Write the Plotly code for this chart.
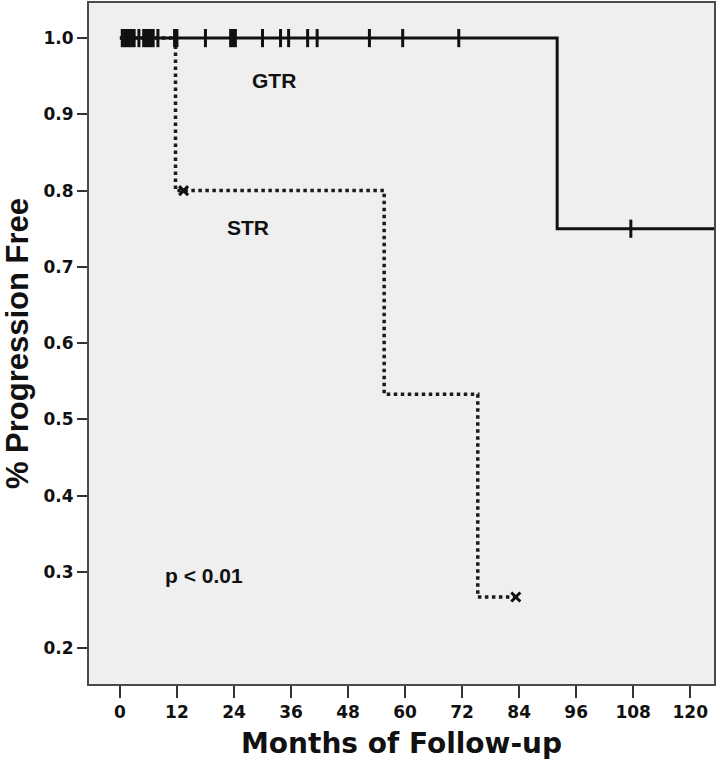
import plotly.graph_objects as go

# Kaplan-Meier step data
gtr_times = [0, 92, 126]
gtr_surv = [1.0, 0.75, 0.75]
gtr_cens_t = [0.5, 1, 1.5, 2, 2.5, 3, 4, 5, 5.5, 6, 6.5, 7, 8, 11.5, 12, 18,
              23.3, 23.8, 24.3, 30, 33.8, 35.5, 39.5, 41.5, 52.5, 59.5, 71.3, 107.5]
gtr_cens_s = [1.0] * 27 + [0.75]

str_times = [0, 11.7, 55.6, 75.3, 83.3]
str_surv = [1.0, 0.8, 0.533, 0.267, 0.267]
str_cens_t = [13.4, 83.3]
str_cens_s = [0.8, 0.267]

x_ticks = [0, 12, 24, 36, 48, 60, 72, 84, 96, 108, 120]
y_ticks = [0.2, 0.3, 0.4, 0.5, 0.6, 0.7, 0.8, 0.9, 1.0]

fig = go.Figure()
fig.add_trace(go.Scatter(x=str_times, y=str_surv, mode="lines", line_shape="hv",
                         line=dict(color="#1a1a1a", width=3.5, dash="3.5px,3.5px"), showlegend=False))
fig.add_trace(go.Scatter(x=gtr_times, y=gtr_surv, mode="lines", line_shape="hv",
                         line=dict(color="#111111", width=3), showlegend=False))
fig.add_trace(go.Scatter(x=gtr_cens_t, y=gtr_cens_s, mode="markers",
                         marker=dict(symbol="line-ns", size=13, line=dict(color="#111111", width=3)),
                         showlegend=False))
fig.add_trace(go.Scatter(x=str_cens_t, y=str_cens_s, mode="markers",
                         marker=dict(symbol="x-thin", size=9, line=dict(color="#111111", width=3)),
                         showlegend=False))

label_font = dict(family="Liberation Sans, Arial", size=21, color="#111111")
fig.add_annotation(x=32.5, y=0.945, text="<b>GTR</b>", showarrow=False, font=label_font)
fig.add_annotation(x=27, y=0.752, text="<b>STR</b>", showarrow=False, font=label_font)
fig.add_annotation(x=17.7, y=0.295, text="<b>p < 0.01</b>", showarrow=False, font=label_font)

tick_font = dict(family="DejaVu Sans", size=17, color="#111111")
fig.update_xaxes(range=[-6.5, 125], tickvals=x_ticks, ticktext=["<b>%d</b>" % v for v in x_ticks],
                 ticks="outside", ticklen=12, tickwidth=2, tickcolor="#333333",
                 showgrid=False, zeroline=False, showline=True, linecolor="#4a4a4a", linewidth=2,
                 mirror=True, tickfont=tick_font, automargin=False,
                 title=dict(text="<b>Months of Follow-up</b>",
                            font=dict(family="DejaVu Sans", size=28, color="#111111"), standoff=12))
fig.update_yaxes(range=[0.153, 1.046], tickvals=y_ticks, ticktext=["<b>%.1f</b>" % v for v in y_ticks],
                 ticks="outside", ticklen=10, tickwidth=2, tickcolor="#333333",
                 showgrid=False, zeroline=False, showline=True, linecolor="#4a4a4a", linewidth=2,
                 mirror=True, tickfont=tick_font, automargin=False,
                 title=dict(text="<b>% Progression Free</b>",
                            font=dict(family="Liberation Sans, Arial", size=31, color="#111111"), standoff=8))
fig.update_layout(width=720, height=770, margin=dict(l=89, r=6, t=3, b=86),
                  plot_bgcolor="#efefef", paper_bgcolor="white")
fig.write_html("out.html", config={"displayModeBar": False},
               post_script="document.body.style.margin='0px';")
